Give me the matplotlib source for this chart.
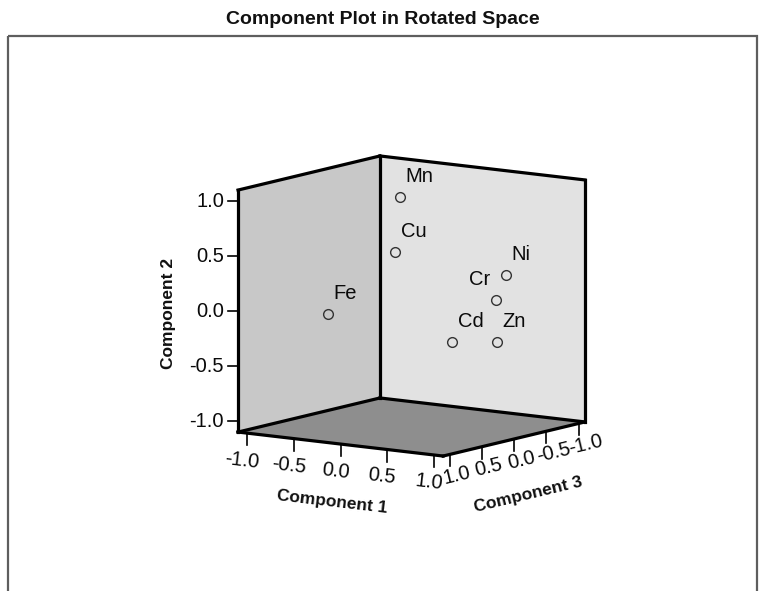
import numpy as np
import matplotlib
matplotlib.use("Agg")
import matplotlib.pyplot as plt
from matplotlib.patches import Polygon, Rectangle

plt.rcParams['font.family'] = ['Liberation Sans', 'DejaVu Sans']

# Rotated component loadings
elements = ["Mn", "Cu", "Ni", "Cr", "Cd", "Zn", "Fe"]
comp1 = [-0.12, -0.10, 0.90, 0.85, 0.55, 0.90, -0.27]
comp2 = [0.98, 0.50, 0.35, 0.13, -0.25, -0.24, 0.03]
comp3 = [0.00, 0.11, -0.16, -0.08, 0.16, -0.03, 0.90]

tick_values = [-1.0, -0.5, 0.0, 0.5, 1.0]
tick_labels = ["-1.0", "-0.5", "0.0", "0.5", "1.0"]

# Oblique view of the 3D box (pixel space of the canvas)
ORIGIN = np.array([411.5, 306.0])
E1 = np.array([93.2, 10.9])
E2 = np.array([0.0, -110.0])
E3 = np.array([-64.5, 15.5])
R = 1.1


def proj(c1, c2, c3):
    c1, c2, c3 = np.asarray(c1, float), np.asarray(c2, float), np.asarray(c3, float)
    x = ORIGIN[0] + E1[0] * c1 + E2[0] * c2 + E3[0] * c3
    y = ORIGIN[1] + E1[1] * c1 + E2[1] * c2 + E3[1] * c3
    return x, y


fig = plt.figure(figsize=(7.59, 5.91), dpi=100)
ax = fig.add_axes([0, 0, 1, 1])
ax.set_xlim(0, 759)
ax.set_ylim(591, 0)
ax.axis("off")

# outer chart frame
ax.add_patch(Rectangle((7.5, 36), 749, 600, fill=False, edgecolor="#5e5e5e",
                       linewidth=1.6, zorder=1))

ax.text(383, 19, "Component Plot in Rotated Space", ha="center", va="center",
        fontsize=14, fontweight="bold", color="#111111")


def face(corners, color):
    pts = np.array([proj(*c) for c in corners])
    ax.add_patch(Polygon(pts, closed=True, facecolor=color, edgecolor="none", zorder=2))


# walls and floor
face([(-R, -R, R), (-R, -R, -R), (-R, R, -R), (-R, R, R)], "#c8c8c8")
face([(-R, -R, -R), (R, -R, -R), (R, R, -R), (-R, R, -R)], "#e2e2e2")
face([(-R, -R, R), (-R, -R, -R), (R, -R, -R), (R, -R, R)], "#8e8e8e")

edges = [
    ((-R, -R, R), (-R, R, R)),
    ((-R, -R, -R), (-R, R, -R)),
    ((R, -R, -R), (R, R, -R)),
    ((-R, R, R), (-R, R, -R)),
    ((-R, R, -R), (R, R, -R)),
    ((-R, -R, R), (-R, -R, -R)),
    ((-R, -R, -R), (R, -R, -R)),
    ((-R, -R, R), (R, -R, R)),
    ((R, -R, R), (R, -R, -R)),
]
for a, b in edges:
    xa, ya = proj(*a)
    xb, yb = proj(*b)
    ax.plot([xa, xb], [ya, yb], color="black", linewidth=2.3,
            solid_capstyle="projecting", zorder=3)

tick_kw = dict(fontsize=14.5, color="#0a0a0a")

# Component 2 axis (vertical, front-left edge)
for v, lab in zip(tick_values, tick_labels):
    x, y = proj(-R, v, R)
    ax.plot([x - 10, x], [y, y], color="black", linewidth=1.2, zorder=3)
    ax.text(x - 14, y, lab, ha="right", va="center", **tick_kw)
ax.text(168, 313, "Component 2", rotation=90, ha="center", va="center",
        fontsize=12.5, fontweight="bold", color="#111111")

# Component 1 axis (front-left floor edge)
ang1 = -np.degrees(np.arctan2(E1[1], E1[0]))
for v, lab in zip(tick_values, tick_labels):
    x, y = proj(v, -R, R)
    ax.plot([x, x], [y, y + 12], color="black", linewidth=1.2, zorder=3)
    ax.text(x - 5, y + 27, lab, ha="center", va="center", rotation=ang1,
            rotation_mode="anchor", **tick_kw)
ax.text(332, 502, "Component 1", rotation=ang1, ha="center", va="center",
        rotation_mode="anchor", fontsize=12.5, fontweight="bold", color="#111111")

# Component 3 axis (front-right floor edge)
ang3 = np.degrees(np.arctan2(E3[1], -E3[0]))
for v, lab in zip(tick_values, tick_labels):
    x, y = proj(R, -R, v)
    ax.plot([x, x], [y, y + 12], color="black", linewidth=1.2, zorder=3)
    ax.text(x + 7, y + 21, lab, ha="center", va="center", rotation=ang3,
            rotation_mode="anchor", **tick_kw)
ax.text(528, 495, "Component 3", rotation=ang3, ha="center", va="center",
        rotation_mode="anchor", fontsize=12.5, fontweight="bold", color="#111111")

# loadings
px, py = proj(comp1, comp2, comp3)
ax.plot(px, py, linestyle="none", marker="o", markersize=7, markerfacecolor="none",
        markeredgecolor="#333333", markeredgewidth=1.0, zorder=4)
for name, x, y in zip(elements, px, py):
    if name == "Cr":
        ax.annotate(name, (x, y), xytext=(-4, 8), textcoords="offset points",
                    ha="right", va="bottom", fontsize=14.5, color="#0a0a0a", zorder=5)
    else:
        ax.annotate(name, (x, y), xytext=(4, 8), textcoords="offset points",
                    ha="left", va="bottom", fontsize=14.5, color="#0a0a0a", zorder=5)

fig.savefig("out.png", dpi=100, facecolor="white")
